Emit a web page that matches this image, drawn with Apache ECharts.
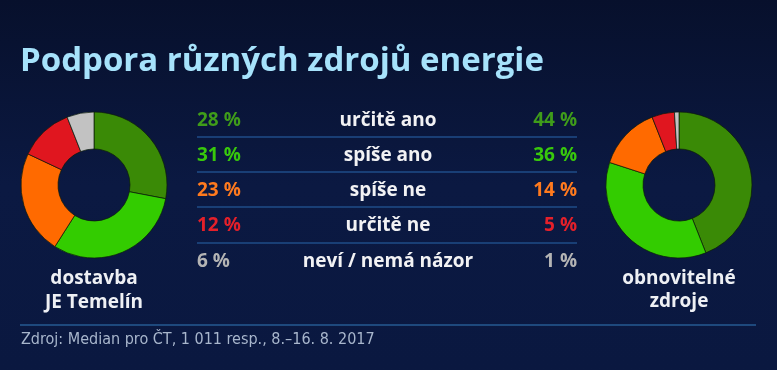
<!DOCTYPE html>
<html><head><meta charset="utf-8">
<script src="https://cdn.jsdelivr.net/npm/echarts@6/dist/echarts.min.js"></script>
<style>html,body{margin:0;padding:0;background:#0a1638;}#c{width:777px;height:370px;}</style>
</head><body><div id="c"></div>
<script>
var title = 'Podpora různých zdrojů energie';
var categories = ['určitě ano', 'spíše ano', 'spíše ne', 'určitě ne', 'neví / nemá názor'];
var temelinValues = [28, 31, 23, 12, 6];
var renewablesValues = [44, 36, 14, 5, 1];
var temelinLabel = ['dostavba', 'JE Temelín'];
var renewablesLabel = ['obnovitelné', 'zdroje'];
var source = 'Zdroj: Median pro ČT, 1 011 resp., 8.–16. 8. 2017';

var sliceColors = ['#3a8a06', '#33cc00', '#ff6a00', '#e0161f', '#c2c2c2'];
var textColors = ['#3f9c1a', '#38c80c', '#ff7a1e', '#e4202a', '#b4b4b4'];

var chart = echarts.init(document.getElementById('c'));

function pieSeries(vals, cx) {
  return {
    type: 'pie', center: [cx, 185], radius: [36, 73], startAngle: 90, clockwise: true,
    label: {show: false}, labelLine: {show: false}, silent: true,
    itemStyle: {borderColor: 'rgba(10,25,10,0.7)', borderWidth: 1},
    data: vals.map(function (v, i) { return {value: v, name: categories[i], itemStyle: {color: sliceColors[i]}}; })
  };
}

var rowY = [121, 156, 191, 226, 262];
var lineY = [137, 172, 207, 243];
var g = [];
g.push({type: 'text', x: 20, y: 62, style: {text: title, fill: '#a6e2fb', font: 'bold 33px "Open Sans"', textAlign: 'left', textVerticalAlign: 'middle'}});
categories.forEach(function (c, i) {
  g.push({type: 'text', x: 197, y: rowY[i], style: {text: temelinValues[i] + ' %', fill: textColors[i], font: 'bold 19px "Open Sans"', textAlign: 'left', textVerticalAlign: 'middle'}});
  g.push({type: 'text', x: 388, y: rowY[i], style: {text: c, fill: '#f2f2f4', font: 'bold 19px "Open Sans"', textAlign: 'center', textVerticalAlign: 'middle'}});
  g.push({type: 'text', x: 577, y: rowY[i], style: {text: renewablesValues[i] + ' %', fill: textColors[i], font: 'bold 19px "Open Sans"', textAlign: 'right', textVerticalAlign: 'middle'}});
});
lineY.forEach(function (y) {
  g.push({type: 'line', shape: {x1: 197, y1: y, x2: 577, y2: y}, style: {stroke: '#1f4c88', lineWidth: 1.5}});
});
temelinLabel.forEach(function (t, i) {
  g.push({type: 'text', x: 94, y: 279 + i * 24, style: {text: t, fill: '#eef0f4', font: 'bold 19px "Open Sans"', textAlign: 'center', textVerticalAlign: 'middle'}});
});
renewablesLabel.forEach(function (t, i) {
  g.push({type: 'text', x: 679, y: 279 + i * 23, style: {text: t, fill: '#eef0f4', font: 'bold 19px "Open Sans"', textAlign: 'center', textVerticalAlign: 'middle'}});
});
g.push({type: 'line', shape: {x1: 20, y1: 325, x2: 756, y2: 325}, style: {stroke: '#265a92', lineWidth: 1.5}});
g.push({type: 'text', x: 21, y: 340, style: {text: source, fill: '#a8b6cc', font: '16px "Liberation Sans Narrow", "DejaVu Sans Condensed", sans-serif', textAlign: 'left', textVerticalAlign: 'middle'}});

chart.setOption({
  backgroundColor: {type: 'linear', x: 0, y: 0, x2: 0, y2: 1, colorStops: [{offset: 0, color: '#07102c'}, {offset: 0.5, color: '#0b1942'}, {offset: 1, color: '#0a1840'}]},
  animation: false,
  graphic: g,
  series: [pieSeries(temelinValues, 94), pieSeries(renewablesValues, 679)]
});
</script></body></html>
